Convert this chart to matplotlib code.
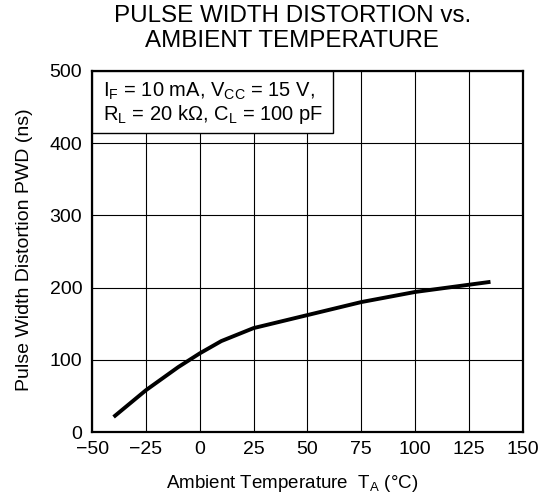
import numpy as np
import matplotlib
matplotlib.use('Agg')
import matplotlib.pyplot as plt
import matplotlib.ticker as ticker
from matplotlib.patches import Rectangle

plt.rcParams['font.family'] = ['Liberation Sans', 'DejaVu Sans']
plt.rcParams['mathtext.fontset'] = 'custom'
plt.rcParams['mathtext.rm'] = 'Liberation Sans'
plt.rcParams['mathtext.it'] = 'Liberation Sans'
plt.rcParams['axes.unicode_minus'] = True

# Данные
temp = [-40, -25, -10, 0, 10, 25, 50, 75, 100, 125, 135]
pwd = [21, 58, 90, 109, 126, 144, 162, 180, 194, 204, 208]

x_ticks = [-50, -25, 0, 25, 50, 75, 100, 125, 150]
y_ticks = [0, 100, 200, 300, 400, 500]

fig = plt.figure(figsize=(5.48, 4.99), dpi=100)
ax = fig.add_axes([0.168, 0.134, 0.786, 0.724])

ax.plot(temp, pwd, color='black', linewidth=2.8, solid_capstyle='butt', zorder=3)

ax.set_xlim(-50, 150)
ax.set_ylim(0, 500)
ax.xaxis.set_major_locator(ticker.FixedLocator(x_ticks))
ax.yaxis.set_major_locator(ticker.FixedLocator(y_ticks))
ax.tick_params(length=0, labelsize=14)
ax.tick_params(axis='x', pad=6.5)
ax.tick_params(axis='y', pad=7)
ax.grid(True, color='black', linewidth=0.8)
for s in ax.spines.values():
    s.set_linewidth(1.6)

ax.set_xlabel(r'Ambient Temperature  T$_{\mathrm{A}}$ (°C)', fontsize=13.5)
ax.set_ylabel('Pulse Width Distortion PWD (ns)', fontsize=14)
ax.xaxis.set_label_coords(0.464, -0.112)
ax.yaxis.set_label_coords(-0.137, 0.504)

# Рамка с условиями
box = Rectangle((0, 0.828), 0.559, 0.172, transform=ax.transAxes,
                facecolor='white', edgecolor='black', linewidth=1.0, zorder=4)
ax.add_patch(box)
ax.text(0.025, 0.944, r'I$_{\mathrm{F}}$ = 10 mA, V$_{\mathrm{CC}}$ = 15 V,',
        transform=ax.transAxes, fontsize=14.5, va='center', ha='left', zorder=5)
ax.text(0.025, 0.880, r'R$_{\mathrm{L}}$ = 20 kΩ, C$_{\mathrm{L}}$ = 100 pF',
        transform=ax.transAxes, fontsize=14.5, va='center', ha='left', zorder=5)

fig.text(0.533, 0.967, 'PULSE WIDTH DISTORTION vs.', fontsize=17.4, ha='center', va='center')
fig.text(0.533, 0.918, 'AMBIENT TEMPERATURE', fontsize=17.4, ha='center', va='center')

fig.savefig('out.png', dpi=100)
